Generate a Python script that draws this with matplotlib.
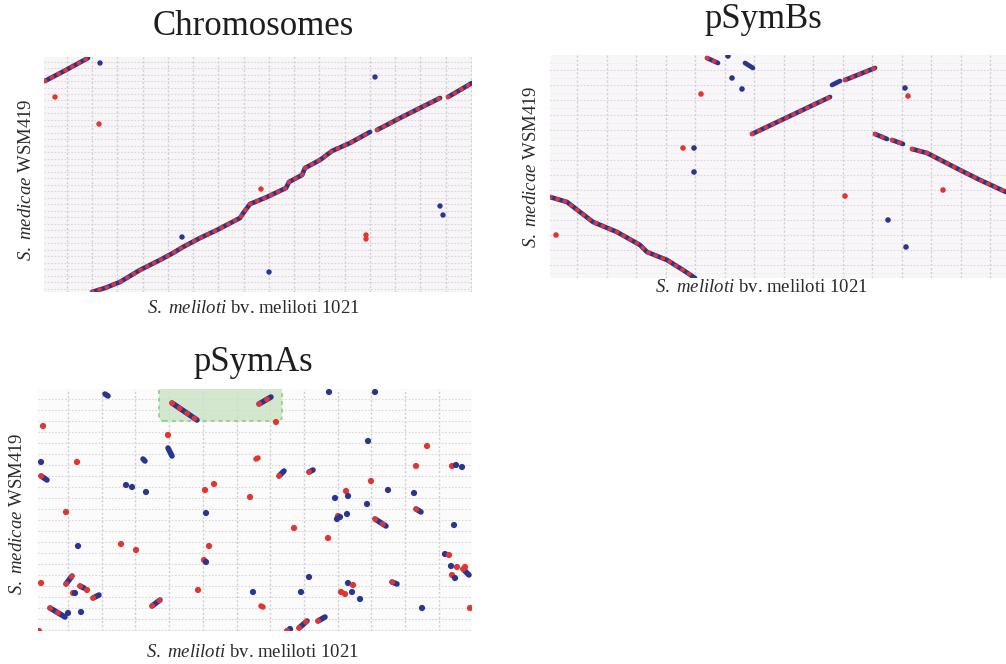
import numpy as np
import matplotlib
matplotlib.use("Agg")
import matplotlib.pyplot as plt
from matplotlib.patches import FancyBboxPatch

plt.rcParams['font.family'] = ['Liberation Serif', 'DejaVu Serif']
plt.rcParams['mathtext.fontset'] = 'custom'
plt.rcParams['mathtext.rm'] = 'Liberation Serif'
plt.rcParams['mathtext.it'] = 'Liberation Serif:italic'

RED = '#e3342f'
BLUE = '#2a3592'

# ---- Chromosomes: alignment runs (x = S. meliloti, y = S. medicae, axis units)
chrom_runs_x = [[1, 22, 44],
                [48, 61, 76, 96, 116, 129, 139, 156, 173, 196, 200, 206, 211, 223,
                 242, 245, 258, 261, 276, 288, 306, 326],
                [333, 356, 376, 396],
                [404, 428]]
chrom_runs_y = [[211, 222, 234],
                [0, 4, 10, 22, 32, 39, 45, 54, 62, 74, 80, 88, 90, 95,
                 104, 110, 117, 124, 132, 141, 149, 160],
                [162, 174, 184, 194],
                [195, 209]]
chrom_runs_kind = ['mix', 'mix', 'mix', 'mix']
chrom_pts_x = [56, 11, 55, 331, 217, 138, 225, 322, 322, 396, 399]
chrom_pts_y = [229, 195, 168, 215, 103, 55, 20, 57, 53, 86, 77]
chrom_pts_c = ['b', 'r', 'r', 'b', 'r', 'b', 'b', 'r', 'r', 'b', 'b']

# ---- pSymBs
psymb_runs_x = [[0, 17, 43, 67, 90, 97, 117, 133, 145],
                [157, 168], [195, 203],
                [202, 280], [282, 290], [295, 325],
                [325, 337], [342, 353], [362, 377, 410, 430, 456]]
psymb_runs_y = [[81, 76, 56, 46, 33, 26, 18, 8, 0],
                [220, 215], [215, 210],
                [144, 181], [193, 197], [198, 210],
                [144, 139], [138, 134], [129, 125, 108, 98, 86]]
psymb_runs_kind = ['mix', 'mix', 'b', 'mix', 'b', 'mix', 'mix', 'mix', 'mix']
psymb_pts_x = [178, 182, 192, 151, 133, 144, 144, 295, 393, 338, 356, 355, 358, 6]
psymb_pts_y = [222, 200, 189, 184, 130, 130, 106, 82, 88, 58, 31, 190, 182, 43]
psymb_pts_c = ['b', 'b', 'b', 'r', 'r', 'b', 'b', 'r', 'r', 'b', 'b', 'b', 'r', 'r']

# ---- pSymAs
psyma_runs_x = [[67, 70], [134, 159], [130, 134], [105, 107], [3, 9],
                [28, 34], [42, 46], [55, 61], [114, 122], [12, 27],
                [221, 233], [218, 220], [241, 246], [271, 275], [378, 383],
                [337, 348], [425, 431], [354, 359], [223, 225], [261, 269],
                [280, 287]]
psyma_runs_y = [[237, 235], [228, 211], [183, 175], [172, 170], [155, 151],
                [47, 55], [45, 43], [33, 36], [25, 31], [23, 14],
                [227, 234], [172, 173], [155, 160], [159, 161], [122, 119],
                [112, 105], [62, 56], [49, 47], [25, 24], [3, 10],
                [10, 14]]
psyma_runs_kind = ['b', 'mix', 'b', 'b', 'mix',
                   'mix', 'mix', 'mix', 'mix', 'mix',
                   'mix', 'r', 'mix', 'mix', 'mix',
                   'mix', 'mix', 'mix', 'r', 'mix',
                   'mix']
psyma_pts_x = [5, 130, 3, 39, 88, 94, 108, 167, 176, 212, 28, 168, 40, 83, 98,
               171, 166, 168, 3, 35, 37, 49, 160, 215, 30, 43, 1,
               238, 291, 337, 330, 389, 378, 414, 418, 424, 333, 350, 308, 310,
               376, 297, 329, 300, 299, 302, 309, 416, 256, 290, 407, 411, 413,
               419, 427, 414, 417, 271, 310, 315, 263, 303, 307, 314, 322, 384,
               432, 252, 249]
psyma_pts_y = [205, 196, 169, 169, 146, 144, 139, 141, 147, 134, 119, 118, 85, 87, 81,
               85, 71, 69, 48, 38, 38, 41, 41, 39, 18, 19, 0,
               209, 239, 239, 190, 185, 165, 165, 166, 164, 150, 141, 140, 135,
               138, 133, 127, 115, 112, 114, 117, 106, 103, 93, 77, 76, 65,
               64, 64, 56, 53, 54, 48, 46, 39, 39, 37, 39, 32, 23,
               23, 2, 0]
psyma_pts_c = ['r', 'r', 'b', 'r', 'b', 'b', 'b', 'r', 'r', 'r', 'r', 'b', 'b', 'r', 'r',
               'r', 'r', 'b', 'r', 'r', 'b', 'r', 'r', 'b', 'b', 'b', 'r',
               'r', 'b', 'b', 'b', 'r', 'r', 'r', 'b', 'b', 'r', 'b', 'r', 'b',
               'b', 'b', 'b', 'r', 'b', 'b', 'b', 'b', 'r', 'r', 'b', 'r', 'b',
               'r', 'r', 'r', 'b', 'b', 'b', 'r', 'b', 'r', 'r', 'b', 'b', 'b',
               'r', 'b', 'r']

W, H = 1006, 664


def fx(px):
    return px / W


def fy(py):
    return 1 - py / H


def make_axes(l, t, r, b):
    return fig.add_axes([fx(l), fy(b), (r - l) / W, (b - t) / H])


def draw_panel(ax, w, h, vgrid, hgrid, hminor, face, runs_x, runs_y, kinds,
               pts_x, pts_y, pts_c, lw, ms):
    ax.set_facecolor(face)
    ax.set_xlim(0, w)
    ax.set_ylim(0, h)
    for v in vgrid:
        ax.axvline(v, color='#d0ced3', lw=1.0, ls=(0, (1.5, 1.5)), zorder=0)
    for g in hgrid:
        ax.axhline(g, color='#dad8db', lw=0.8, ls=(0, (1.5, 1.5)), zorder=0)
    for g in hminor:
        ax.axhline(g, color='#eceaec', lw=0.7, ls=(0, (1.5, 1.5)), zorder=0)
    for xs, ys, k in zip(runs_x, runs_y, kinds):
        base = RED if k == 'r' else BLUE
        ax.plot(xs, ys, color=base, lw=lw, solid_capstyle='round', zorder=2)
        if k == 'mix':
            ax.plot(xs, ys, color=RED, lw=lw * 0.95, ls=(0, (0.1, 1.6)),
                    dash_capstyle='round', zorder=3)
    cols = [RED if c == 'r' else BLUE for c in pts_c]
    ax.scatter(pts_x, pts_y, s=ms, c=cols, linewidths=0, zorder=4)
    ax.set_xticks([])
    ax.set_yticks([])
    for s in ax.spines.values():
        s.set_visible(False)


fig = plt.figure(figsize=(W / 100, H / 100), dpi=100)

# Chromosomes
ax1 = make_axes(44, 57, 472, 292)
draw_panel(ax1, 428, 235, np.arange(23, 428, 25.25), np.arange(3, 235, 6.5), [],
           '#f7f5f7', chrom_runs_x, chrom_runs_y, chrom_runs_kind,
           chrom_pts_x, chrom_pts_y, chrom_pts_c, 3.4, 15)

# pSymBs
ax2 = make_axes(550, 55, 1006, 278)
draw_panel(ax2, 456, 223, np.arange(27, 456, 29.5), np.arange(208, 0, -15),
           np.arange(215.5, 0, -15), '#f8f6f8', psymb_runs_x, psymb_runs_y,
           psymb_runs_kind, psymb_pts_x, psymb_pts_y, psymb_pts_c, 3.4, 16)

# pSymAs
ax3 = make_axes(38, 389, 472, 631)
draw_panel(ax3, 434, 242, np.arange(30, 434, 33.7), np.arange(1, 242, 11), [],
           '#fbfbfb', psyma_runs_x, psyma_runs_y, psyma_runs_kind,
           psyma_pts_x, psyma_pts_y, psyma_pts_c, 4.0, 20)
box = FancyBboxPatch((121, 210), 123, 34, boxstyle='round,pad=0,rounding_size=5',
                     facecolor='#c9e3c4', edgecolor='#86cc80', lw=1.4,
                     ls=(0, (2, 2)), alpha=0.8, zorder=1)
ax3.add_patch(box)

# titles and axis labels
xlab = r'$\mathit{S.\ meliloti}$ bv. meliloti 1021'
ylab = r'$\mathit{S.\ medicae}$ WSM419'
for px, py, name in [(253, 35, 'Chromosomes'), (763, 28, 'pSymBs'), (253, 371, 'pSymAs')]:
    fig.text(fx(px), fy(py), name, fontsize=25, ha='center', va='baseline', color='#1e1e1e')

for px, py in [(253, 313), (761, 292), (252, 657)]:
    fig.text(fx(px), fy(py), xlab, fontsize=13.5, ha='center', va='baseline', color='#2a2a2a')

for px, py in [(27, 180), (532, 167), (18, 514)]:
    fig.text(fx(px), fy(py), ylab, fontsize=13.5, rotation=90, ha='center', va='center',
             color='#2a2a2a')

fig.savefig('out.png', dpi=100, facecolor='white')
